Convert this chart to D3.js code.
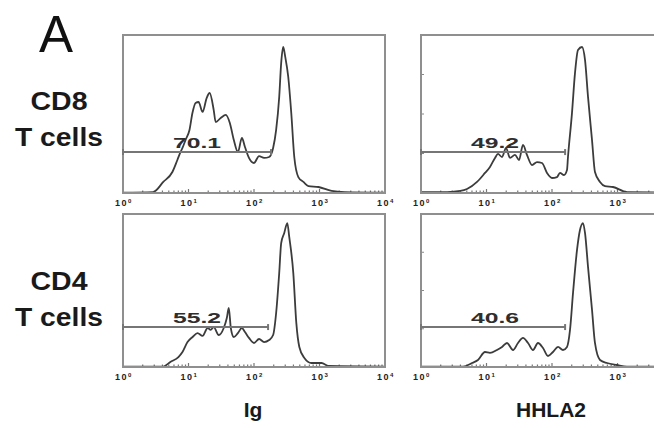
<!DOCTYPE html>
<html lang="en">

<head>
    <meta charset="UTF-8">
    <title>HHLA2 on T cells</title>
    <style>
        body { margin: 0; background: #fff; }
        svg { display: block; font-family: "Liberation Sans", Arial, sans-serif; }
        .frame { fill: none; stroke: #8f8f8f; stroke-width: 2; }
        .hist { fill: none; stroke: #3c3c3c; stroke-width: 1.8; stroke-linejoin: round; }
        .gate { stroke: #767676; stroke-width: 2; }
    </style>
</head>

<body>
    <div id="graph"></div>

    <script src="https://cdnjs.cloudflare.com/ajax/libs/d3/7.8.5/d3.min.js"></script>

    <script>
        // row / column labels
        var rowLabels = [["CD8", "T cells"], ["CD4", "T cells"]];
        var colLabels = ["Ig", "HHLA2"];
        var panelLetter = "A";
        var tickExponents = ["0", "1", "2", "3", "4"];

        // gate percentages, gate right end (log10 intensity) and gate height (% of axis)
        var gateValues = ["70.1", "49.2", "55.2", "40.6"];
        var gateEnds = [2.26, 2.2, 2.215, 2.2];
        var gateLevels = [25.9, 25.9, 26.1, 26.1];

        // histograms: [log10 intensity, count as % of axis height]
        var cd8Ig = [[0, 0.3], [0.46, 0.6], [0.615, 7.0], [0.754, 13.3], [0.83, 20.9], [0.877, 25.9], [0.908, 28.5],
            [0.954, 33.5], [1.015, 39.9], [1.06, 50.6], [1.108, 57.0], [1.154, 57.6], [1.215, 51.3], [1.277, 60.1],
            [1.323, 63.3], [1.385, 52.5], [1.415, 44.9], [1.492, 47.5], [1.569, 49.4], [1.631, 44.3], [1.692, 33.5],
            [1.754, 25.9], [1.815, 34.8], [1.862, 29.1], [1.923, 22.2], [2.0, 19.0], [2.077, 23.4], [2.154, 22.2],
            [2.231, 22.8], [2.292, 28.5], [2.338, 39.9], [2.385, 60.8], [2.415, 82.3], [2.446, 92.4], [2.477, 86.1],
            [2.523, 73.4], [2.569, 50.6], [2.615, 22.8], [2.677, 10.1], [2.754, 7.0], [2.831, 4.4], [2.985, 3.8],
            [3.185, 1.3], [3.385, 0.6], [4, 0.3]];
        var cd8Hhla2 = [[0, 0.6], [0.4, 0.6], [0.6, 1.3], [0.702, 2.5], [0.855, 7.0], [0.977, 12.7], [1.053, 16.5],
            [1.13, 22.2], [1.176, 24.7], [1.237, 22.8], [1.298, 28.5], [1.359, 22.2], [1.435, 24.1], [1.496, 20.9],
            [1.557, 30.4], [1.618, 24.1], [1.695, 17.7], [1.771, 19.6], [1.847, 19.0], [1.924, 12.7], [2.0, 9.5],
            [2.076, 10.1], [2.122, 12.7], [2.183, 11.4], [2.229, 14.6], [2.244, 22.8], [2.305, 50.6], [2.351, 75.9],
            [2.397, 90.5], [2.458, 92.4], [2.504, 84.2], [2.55, 60.8], [2.611, 33.5], [2.656, 13.3], [2.733, 7.0],
            [2.809, 4.4], [2.931, 3.8], [3.145, 0.6], [4, 0.3]];
        var cd4Ig = [[0, 0.3], [0.5, 0.3], [0.615, 0.3], [0.723, 3.3], [0.846, 6.5], [0.908, 9.8], [0.985, 16.3],
            [1.062, 19.6], [1.138, 22.2], [1.215, 20.3], [1.292, 25.5], [1.338, 24.2], [1.385, 26.1], [1.462, 20.9],
            [1.538, 25.5], [1.585, 32.0], [1.615, 38.6], [1.646, 25.5], [1.692, 19.6], [1.754, 22.2], [1.815, 25.5],
            [1.862, 22.9], [1.923, 19.0], [2.0, 15.7], [2.077, 18.3], [2.154, 16.3], [2.231, 17.6], [2.292, 20.9],
            [2.338, 35.3], [2.385, 61.4], [2.415, 81.0], [2.462, 87.6], [2.508, 94.1], [2.538, 85.0], [2.6, 61.4],
            [2.646, 28.8], [2.692, 13.1], [2.769, 5.9], [2.877, 2.6], [3.031, 2.6], [3.138, 0.7], [4, 0.3]];
        var cd4Hhla2 = [[0, 0.3], [0.6, 0.3], [0.641, 0.3], [0.779, 2.6], [0.87, 4.6], [0.977, 9.8], [1.053, 9.2],
            [1.16, 11.1], [1.237, 13.1], [1.313, 15.7], [1.405, 11.1], [1.481, 15.7], [1.557, 19.0], [1.634, 15.7],
            [1.71, 11.1], [1.786, 15.7], [1.863, 12.4], [1.939, 7.2], [2.015, 9.8], [2.092, 13.1], [2.168, 11.1],
            [2.229, 13.1], [2.275, 24.2], [2.321, 48.4], [2.382, 76.5], [2.427, 89.5], [2.473, 94.1], [2.504, 87.6],
            [2.55, 65.4], [2.611, 37.3], [2.656, 15.7], [2.733, 4.6], [2.84, 2.6], [2.992, 1.3], [3.145, 0.3], [4, 0.3]];

        var histograms = [cd8Ig, cd8Hhla2, cd4Ig, cd4Hhla2];

        var width = 654, height = 428;
        var panelW = 262;
        var panelX = [123, 421];
        var panelY = [{ top: 35, bottom: 193 }, { top: 214, bottom: 367 }];

        var svg = d3.select("#graph").append("svg")
            .attr("width", width)
            .attr("height", height);

        var x = d3.scaleLog().domain([1, 1e4]).range([0, panelW]);

        svg.append("text")
            .attr("x", 39).attr("y", 52)
            .attr("font-size", 51)
            .attr("fill", "#111")
            .text(panelLetter);

        rowLabels.forEach(function (lines, r) {
            var cy = r == 0 ? 110 : 290;
            lines.forEach(function (s, i) {
                svg.append("text")
                    .attr("x", 59)
                    .attr("y", cy + i * 36)
                    .attr("text-anchor", "middle")
                    .attr("font-size", 25)
                    .attr("font-weight", "bold")
                    .attr("fill", "#1a1a1a")
                    .attr("textLength", i == 0 ? 57 : 88)
                    .attr("lengthAdjust", "spacingAndGlyphs")
                    .text(s);
            });
        });

        colLabels.forEach(function (s, c) {
            svg.append("text")
                .attr("x", panelX[c] + panelW / 2 - 1)
                .attr("y", 417)
                .attr("text-anchor", "middle")
                .attr("font-size", 21)
                .attr("font-weight", "bold")
                .attr("fill", "#1a1a1a")
                .text(s);
        });

        histograms.forEach(function (data, i) {
            var r = Math.floor(i / 2), c = i % 2;
            var ph = panelY[r].bottom - panelY[r].top;
            var y = d3.scaleLinear().domain([0, 100]).range([ph, 0]);

            var g = svg.append("g")
                .attr("transform", "translate(" + panelX[c] + "," + panelY[r].top + ")");

            // minor + major log ticks along the bottom
            g.selectAll(".mtick")
                .data(x.ticks())
                .enter().append("line")
                .attr("x1", d => x(d)).attr("x2", d => x(d))
                .attr("y1", ph).attr("y2", d => Math.log10(d) % 1 == 0 ? ph - 4 : ph - 2.5)
                .attr("stroke", "#777").attr("stroke-width", 1.2);

            if (c == 1) {
                g.selectAll(".ytick")
                    .data([25, 50, 75, 100])
                    .enter().append("line")
                    .attr("x1", 0).attr("x2", 3)
                    .attr("y1", d => y(d)).attr("y2", d => y(d))
                    .attr("stroke", "#888").attr("stroke-width", 1);
            }

            var line = d3.line()
                .curve(d3.curveMonotoneX)
                .x(d => x(Math.pow(10, d[0])))
                .y(d => y(d[1]));

            g.append("path")
                .datum(data)
                .attr("class", "hist")
                .attr("d", line);

            g.append("rect")
                .attr("class", "frame")
                .attr("width", panelW)
                .attr("height", ph);

            // gate marker
            var gy = y(gateLevels[i]);
            var gx = x(Math.pow(10, gateEnds[i]));
            g.append("line").attr("class", "gate")
                .attr("x1", 0).attr("x2", gx).attr("y1", gy).attr("y2", gy);
            g.selectAll(".gend")
                .data([0, gx])
                .enter().append("line").attr("class", "gate")
                .attr("stroke-width", 1.5)
                .attr("x1", d => d).attr("x2", d => d)
                .attr("y1", gy - 3).attr("y2", gy + 3);

            g.append("text")
                .attr("x", x(Math.pow(10, 1.13)))
                .attr("y", gy - 4)
                .attr("text-anchor", "middle")
                .attr("font-size", 15)
                .attr("font-weight", "bold")
                .attr("fill", "#2e2e2e")
                .attr("textLength", 48)
                .attr("lengthAdjust", "spacingAndGlyphs")
                .text(gateValues[i]);

            // decade labels under the axis (only the ones that fall inside the page)
            var lbl = g.selectAll(".dlab")
                .data(tickExponents.filter(d => panelX[c] + x(Math.pow(10, +d)) < width - 10))
                .enter().append("text")
                .attr("x", d => x(Math.pow(10, +d)) - 8)
                .attr("y", ph + 13)
                .attr("font-size", 9)
                .attr("font-weight", "bold")
                .attr("letter-spacing", 1.5)
                .attr("fill", "#222");
            lbl.append("tspan").text("10");
            lbl.append("tspan").attr("dy", -3).attr("font-size", 6).text(d => d);
        });
    </script>
</body>

</html>
